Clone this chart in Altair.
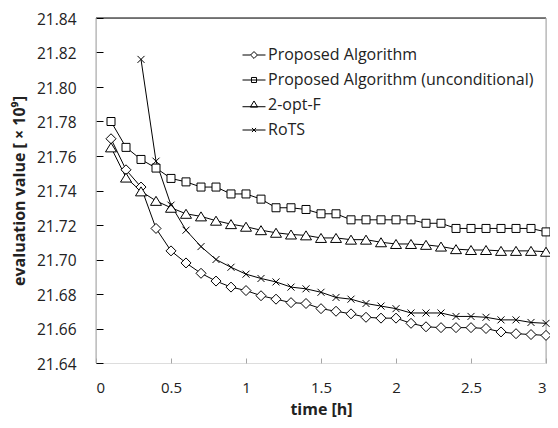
import altair as alt
import pandas as pd

# ---- data ----
time_h = [0.1, 0.2, 0.3, 0.4, 0.5, 0.6, 0.7, 0.8, 0.9, 1.0,
          1.1, 1.2, 1.3, 1.4, 1.5, 1.6, 1.7, 1.8, 1.9, 2.0,
          2.1, 2.2, 2.3, 2.4, 2.5, 2.6, 2.7, 2.8, 2.9, 3.0]

series_names = ["Proposed Algorithm", "Proposed Algorithm (unconditional)", "2-opt-F", "RoTS"]

proposed = [21.770, 21.752, 21.742, 21.718, 21.705, 21.698, 21.692, 21.6875, 21.684, 21.682,
            21.679, 21.677, 21.675, 21.6745, 21.6715, 21.670, 21.6685, 21.6665, 21.666, 21.666,
            21.663, 21.661, 21.6605, 21.6605, 21.6605, 21.660, 21.658, 21.657, 21.6565, 21.656]

unconditional = [21.780, 21.765, 21.758, 21.753, 21.747, 21.745, 21.742, 21.742, 21.738, 21.738,
                 21.735, 21.730, 21.730, 21.729, 21.7265, 21.7265, 21.723, 21.723, 21.723, 21.723,
                 21.723, 21.721, 21.721, 21.718, 21.718, 21.718, 21.718, 21.718, 21.718, 21.716]

two_opt_f = [21.765, 21.7475, 21.7395, 21.734, 21.730, 21.7265, 21.725, 21.7225, 21.7205, 21.719,
             21.717, 21.7155, 21.7145, 21.714, 21.7125, 21.7125, 21.7115, 21.7115, 21.710, 21.709,
             21.709, 21.7085, 21.7075, 21.706, 21.7055, 21.7055, 21.705, 21.705, 21.705, 21.7045]

rots = [None, None, 21.816, 21.757, 21.7315, 21.717, 21.7075, 21.700, 21.6955, 21.6915,
        21.689, 21.687, 21.684, 21.683, 21.681, 21.678, 21.677, 21.6745, 21.673, 21.6715,
        21.669, 21.669, 21.669, 21.667, 21.667, 21.6665, 21.665, 21.665, 21.6635, 21.663]

x_ticks = [0, 0.5, 1, 1.5, 2, 2.5, 3]
y_ticks = [21.64, 21.66, 21.68, 21.70, 21.72, 21.74, 21.76, 21.78, 21.80, 21.82, 21.84]

rows = []
for name, vals in zip(series_names, [proposed, unconditional, two_opt_f, rots]):
    for t, v in zip(time_h, vals):
        if v is not None:
            rows.append({"time": t, "value": v, "series": name})
df = pd.DataFrame(rows)

# marker shapes (unit square paths)
marker_paths = [
    "M0,-1L1,0L0,1L-1,0Z",                 # diamond
    "M-0.8,-0.8L0.8,-0.8L0.8,0.8L-0.8,0.8Z",  # square
    "M0,-0.9L1.1,0.9L-1.1,0.9Z",           # triangle
    "M-0.7,-0.7L0.7,0.7M-0.7,0.7L0.7,-0.7" # x
]
legend_paths = [
    "M-1,0L-0.3,0M0.3,0L1,0M0,-0.3L0.3,0L0,0.3L-0.3,0Z",
    "M-1,0L1,0M-0.22,-0.22L0.22,-0.22L0.22,0.22L-0.22,0.22Z",
    "M-1,0.15L1,0.15M0,-0.35L0.32,0.18L-0.32,0.18Z",
    "M-1,0L1,0M-0.18,-0.18L0.18,0.18M-0.18,0.18L0.18,-0.18",
]

FONT = "Open Sans"
TXT = "#222222"
GRAY = "#a6a6a6"

X = alt.X("time:Q",
          scale=alt.Scale(domain=[0, 3], nice=False),
          axis=alt.Axis(values=x_ticks, format="~g", domain=False, grid=False,
                        offset=-5, tickSize=5, tickColor=GRAY, tickWidth=1,
                        labelPadding=17, labelFont=FONT, labelFontSize=15, labelColor=TXT,
                        titleFont=FONT, titleFontSize=16, titleFontWeight="bold",
                        titleColor=TXT, titlePadding=6),
          title="time [h]")
Y = alt.Y("value:Q",
          scale=alt.Scale(domain=[21.64, 21.84], nice=False, zero=False),
          axis=alt.Axis(values=y_ticks, format=".2f", domain=False, grid=False,
                        offset=-7, tickSize=7, tickColor="black", tickWidth=1,
                        labelPadding=20, labelOffset=1, labelFont=FONT, labelFontSize=15.5,
                        labelColor=TXT,
                        titleFont=FONT, titleFontSize=16, titleFontWeight="bold",
                        titleColor=TXT, titlePadding=9),
          title="evaluation value [ × 10⁹]")

top_line = alt.Chart(pd.DataFrame({"value": [21.84]})).mark_rule(
    color="black", strokeWidth=1).encode(y=Y)
side_lines = alt.Chart(pd.DataFrame({"time": [0, 3]})).mark_rule(
    color=GRAY, strokeWidth=1).encode(x=X)

lines = alt.Chart(df).mark_line(color="black", strokeWidth=1).encode(
    x=X, y=Y, detail="series:N")

points = alt.Chart(df).mark_point(
    filled=True, fill="white", stroke="black", strokeWidth=1, size=100, opacity=1
).encode(
    x=X, y=Y,
    shape=alt.Shape("series:N", scale=alt.Scale(domain=series_names, range=marker_paths),
                    legend=None),
)

legend_layer = alt.Chart(df).mark_point(
    filled=False, color="black", strokeWidth=1, size=529, opacity=0
).encode(
    x=X, y=Y,
    shape=alt.Shape("series:N", scale=alt.Scale(domain=series_names, range=legend_paths),
                    legend=alt.Legend(title=None, orient="none", legendX=146, legendY=25,
                                      labelFont=FONT, labelFontSize=16, labelColor=TXT,
                                      labelLimit=500, labelOffset=2, rowPadding=5, padding=0,
                                      symbolSize=529, symbolStrokeWidth=1, symbolOpacity=1,
                                      symbolStrokeColor="black")),
)

chart = alt.layer(top_line, side_lines, lines, points, legend_layer).resolve_scale(
    shape="independent"
).properties(
    width=450, height=345,
    autosize=alt.AutoSizeParams(type="none"),
    padding={"left": 88, "top": 10, "right": 4, "bottom": 57},
).configure_view(stroke=None).configure(background="white")

chart.save("out.html", embed_options={"renderer": "svg", "actions": False})
